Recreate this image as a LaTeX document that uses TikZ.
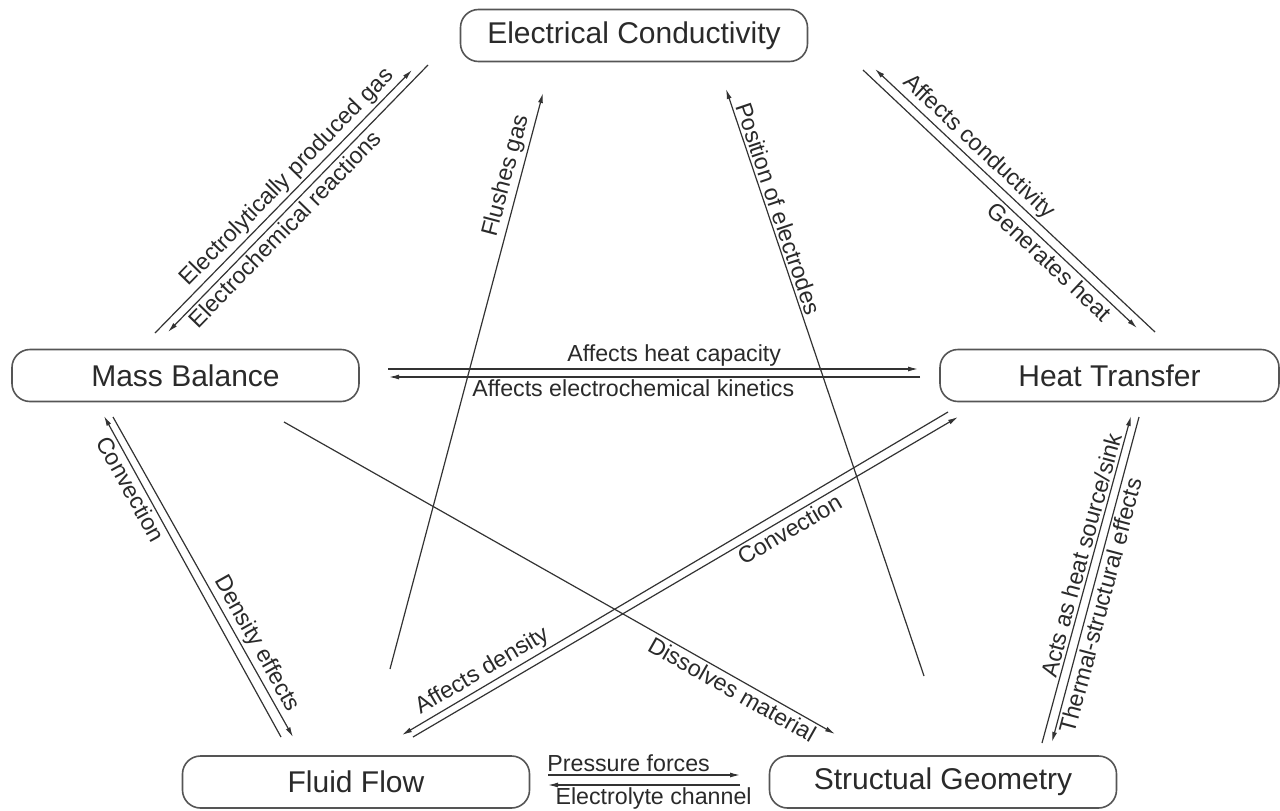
\documentclass[tikz,border=0pt]{standalone}
\usepackage{fontspec}
\setmainfont{Liberation Sans}
\usetikzlibrary{arrows.meta}
\definecolor{boxc}{HTML}{555555}
\definecolor{linec}{HTML}{333333}
\definecolor{txt}{HTML}{2A2A2A}
\begin{document}
\begin{tikzpicture}[x=1pt,y=-1pt,
  box/.style={draw=boxc, line width=1.6pt, rounded corners=18pt, minimum width=347pt, minimum height=52pt, inner sep=0pt, text=txt, font=\fontsize{30}{35}\selectfont},
  arr/.style={draw=linec, line width=1.2pt, -{Latex[length=10pt,width=5pt]}},
  lab/.style={text=txt, font=\fontsize{23.2}{27}\selectfont, inner sep=2.5pt, sloped}
]
\useasboundingbox (0,0) rectangle (1280,811);
\fill[white] (0,0) rectangle (1280,811);

% nodes
\node[box] (ec) at (634,35.5) {Electrical Conductivity};
\node[box] (mb) at (185.5,375.5) {Mass Balance};
\node[box, minimum width=339pt] (ht) at (1109.5,375.5) {Heat Transfer};
\node[box] (ff) at (356,782) {Fluid Flow};
\node[box] (sg) at (943,782) {Structual Geometry};

% end points of connectors
\coordinate (a1) at (155,333);  \coordinate (a2) at (412,70);
\coordinate (b1) at (428,65);   \coordinate (b2) at (168,332);
\coordinate (c1) at (863,70);   \coordinate (c2) at (1137,328);
\coordinate (d1) at (1155,332); \coordinate (d2) at (875,69);
\coordinate (e1) at (388,369);  \coordinate (e2) at (918,369);
\coordinate (f1) at (920,377);  \coordinate (f2) at (389,377);
\coordinate (g1) at (281,737);  \coordinate (g2) at (104,416);
\coordinate (h1) at (113,417);  \coordinate (h2) at (293,737);
\coordinate (i1) at (948,412);  \coordinate (i2) at (402,735);
\coordinate (j1) at (413,737);  \coordinate (j2) at (958,417);
\coordinate (k1) at (1042,743); \coordinate (k2) at (1131,416);
\coordinate (l1) at (1139,417); \coordinate (l2) at (1052,742);
\coordinate (m1) at (548,775);  \coordinate (m2) at (740,775);
\coordinate (n1) at (740,785);  \coordinate (n2) at (548,785);
\coordinate (o1) at (390,669);  \coordinate (o2) at (543,93);
\coordinate (p1) at (924,676);  \coordinate (p2) at (726,89);
\coordinate (q1) at (284,422);  \coordinate (q2) at (835,734);

% Mass Balance <-> Electrical Conductivity
\draw[arr] (a1) -- (a2) node[lab, pos=0.554, above] (la) {Electrolytically produced gas};
\draw[arr] (b1) -- (b2) node[lab, pos=0.583, below] (lb) {Electrochemical reactions};
% Electrical Conductivity <-> Heat Transfer
\draw[arr] (c1) -- (c2) node[lab, pos=0.71, below] (lc) {Generates heat};
\draw[arr] (d1) -- (d2) node[lab, pos=0.664, above] (ld) {Affects conductivity};
% Mass Balance <-> Heat Transfer
\draw[arr] (e1) -- (e2) node[lab, pos=0.54, above] (le) {Affects heat capacity};
\draw[arr] (f1) -- (f2) node[lab, pos=0.54, below] (lf) {Affects electrochemical kinetics};
% Mass Balance <-> Fluid Flow
\draw[arr] (g1) -- (g2) node[lab, pos=0.79, below] (lg) {Convection};
\draw[arr] (h1) -- (h2) node[lab, pos=0.73, above] (lh) {Density effects};
% Heat Transfer <-> Fluid Flow
\draw[arr] (i1) -- (i2) node[lab, pos=0.84, above] (li) {Affects density};
\draw[arr] (j1) -- (j2) node[lab, pos=0.68, below] (lj) {Convection};
% Heat Transfer <-> Structual Geometry
\draw[arr] (k1) -- (k2) node[lab, pos=0.565, above] (lk) {Acts as heat source/sink};
\draw[arr] (l1) -- (l2) node[lab, pos=0.57, below] (ll) {Thermal-structural effects};
% Fluid Flow <-> Structual Geometry
\draw[arr] (m1) -- (m2) node[lab, pos=0.42, above] (lm) {Pressure forces};
\draw[arr] (n1) -- (n2) node[lab, pos=0.45, below] (ln) {Electrolyte channel};
% single connectors
\draw[arr] (o1) -- (o2) node[lab, pos=0.85, above] (lo) {Flushes gas};
\draw[arr] (p1) -- (p2) node[lab, pos=0.79, above] (lp) {Position of electrodes};
\draw[arr] (q1) -- (q2) node[lab, pos=0.824, below] (lq) {Dissolves material};
\end{tikzpicture}
\end{document}
